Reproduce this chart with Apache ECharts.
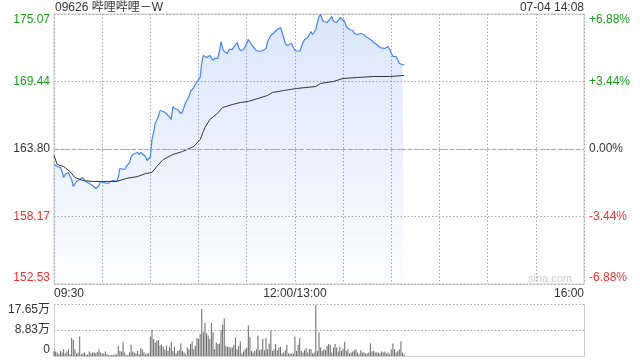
<!DOCTYPE html>
<html><head><meta charset="utf-8">
<script src="https://cdn.jsdelivr.net/npm/echarts@6/dist/echarts.min.js"></script>
<style>html,body{margin:0;padding:0;background:#fff}#c{width:640px;height:360px}</style>
</head><body><div id="c"></div>
<script>
const title = '09626 哔哩哔哩－W';
const stamp = '07-04 14:08';
const watermark = 'sina.com';
const prevClose = 163.80;
const yTickLabels = ['152.53','158.17','163.80','169.44','175.07'];
const pctTickLabels = ['-6.88%','-3.44%','0.00%','+3.44%','+6.88%'];
const timeLabels = {0:'09:30',150:'12:00/13:00',330:'16:00'};
const volTickLabels = ['0','8.83万','17.65万'];

// minutes since 09:30 (lunch break removed)
const priceMin = [0,2,4,5,6,7,9,10,11,12,13,14,16,18,19,21,22,24,26,27,28,29,30,31,32,34,35,36,37,39,40,41,42,44,45,46,47,48,49,50,52,53,54,55,57,58,59,60,61,62,63,64,65,66,67,68,70,71,72,73,74,75,77,78,79,80,82,83,84,85,87,88,89,90,91,92,93,94,95,96,97,98,99,100,102,103,104,105,106,108,109,110,111,112,114,115,116,117,118,120,121,122,123,125,126,127,128,130,131,132,133,135,136,137,138,139,141,143,144,145,146,148,149,150,151,153,154,155,156,158,159,160,161,162,163,164,165,166,167,168,169,170,171,172,173,174,176,177,178,179,181,182,183,184,186,187,188,189,191,192,193,194,196,197,198,199,201,202,203,204,206,207,208,209,211,212,213,214,215,217,218];
const priceVal = [162.51,162.34,162.26,161.92,161.42,161.67,161.84,161.50,161.25,160.67,160.75,161.09,161.25,161.42,161.17,161.00,160.84,160.75,160.50,160.42,160.75,161.09,161.25,161.00,161.09,160.92,161.09,161.00,161.17,161.09,161.42,162.17,162.26,162.09,162.34,162.42,162.67,163.17,163.34,163.42,163.51,163.34,163.51,163.59,163.17,162.84,162.92,163.17,164.59,165.18,165.93,165.85,166.51,167.01,166.93,166.93,166.76,166.60,166.43,166.26,167.35,167.18,167.10,166.93,166.76,166.93,167.68,167.93,168.18,168.60,168.93,169.18,169.27,169.60,169.77,171.02,171.61,171.77,171.44,171.52,171.61,171.52,171.19,171.36,171.36,171.94,172.77,172.19,171.94,171.77,172.11,172.27,172.11,172.27,172.69,172.27,172.02,172.02,172.11,172.61,172.94,172.94,172.52,172.19,172.02,171.86,171.94,172.02,171.94,172.19,172.77,173.28,173.44,173.53,173.61,173.78,173.94,173.11,172.61,172.44,172.52,172.61,172.27,172.02,172.11,171.94,172.02,172.69,172.94,173.11,173.36,173.61,173.36,173.44,173.78,174.36,174.86,175.03,174.61,174.44,174.44,174.36,174.28,174.69,174.86,174.44,174.36,174.53,174.78,174.86,174.44,174.03,173.94,173.78,173.69,173.44,173.36,173.36,173.44,173.44,173.36,173.19,173.03,172.94,172.86,172.69,172.52,172.44,172.27,172.27,172.19,172.27,172.36,172.11,171.52,171.44,171.52,171.27,170.94,170.85,170.85];

const avgMin = [0,2,6,10,13,18,24,31,39,45,52,57,61,64,68,74,80,87,91,93,94,97,101,105,111,116,121,133,136,143,151,163,166,174,180,189,199,209,218];
const avgVal = [163.26,162.51,162.34,161.92,161.42,161.17,161.09,161.09,161.09,161.34,161.50,161.75,161.84,162.34,162.92,163.34,163.59,164.01,164.59,165.26,165.59,166.26,166.68,167.26,167.51,167.68,167.77,168.27,168.52,168.68,168.85,169.02,169.27,169.44,169.69,169.77,169.85,169.85,169.94];

// volume per minute, in 万 shares
const volWan = [1.73,1.50,1.15,0.58,1.73,1.15,2.31,0.81,1.50,2.31,
0.58,6.12,5.42,2.31,0.81,1.15,6.58,0.58,0.81,1.15,
0.35,0.58,1.50,0.81,1.15,1.15,0.92,1.38,2.31,1.15,
0.81,
0.81,1.50,0.58,0.35,0.35,0.35,0.35,0.58,0.58,3.46,
1.73,1.50,4.85,1.15,0.35,0.35,1.15,3.81,1.50,1.15,
0.81,1.73,0.58,2.65,2.31,1.15,0.58,0.81,1.04,6.58,
8.89,5.77,4.62,5.19,5.42,3.69,3.81,3.12,2.08,3.46,
1.73,3.12,4.85,1.73,3.12,0.81,1.73,1.96,4.27,1.73,
1.15,
0.58,2.89,2.31,4.04,4.96,2.31,3.46,6.12,5.77,7.50,
15.93,8.08,11.19,7.73,6.92,5.77,11.19,8.08,2.31,4.62,
4.04,4.27,8.89,10.73,12.69,3.46,3.12,3.12,2.89,2.89,
3.81,6.35,2.31,3.46,4.96,0.81,1.50,2.31,2.89,10.39,
6.35,1.73,1.15,1.73,2.31,6.92,1.96,2.31,5.77,1.96,
6.12,2.31,4.27,8.66,1.73,2.31,4.04,1.96,2.89,3.12,
0.81,1.15,1.96,3.81,0.81,0.81,0.81,0.81,6.58,1.73,
3.81,6.12,1.73,1.15,1.96,2.65,1.15,2.31,2.31,0.81,
1.15,17.31,1.73,7.96,2.89,1.73,2.31,1.96,3.46,4.04,
3.81,1.15,2.89,4.04,2.89,
1.50,
3.12,1.73,2.54,4.85,1.73,
2.31,0.81,1.15,1.50,1.96,2.31,1.15,0.58,1.96,1.15,
1.15,0.81,0.81,1.15,4.27,1.50,1.73,1.15,1.15,1.15,
0.81,
1.50,1.15,1.50,0.81,1.15,0.58,2.31,4.27,2.31,1.15,
1.73,2.31,4.96,1.15,0.58];

const FONT = "'Liberation Sans','Noto Sans CJK SC',sans-serif";
const GREEN = '#1a9f1a', RED = '#f23030', DARK = '#333';
const GRIDC = '#a8a8a8';
const DOT = [1.5,2];
const span = 11.27, step = 5.635;
const idxOf = v => Math.round((parseFloat(v) + span) / step);
const colorOf = v => { v = parseFloat(v); return v > 0.001 ? GREEN : (v < -0.001 ? RED : DARK); };

const chart = echarts.init(document.getElementById('c'), null, {renderer:'canvas'});
chart.setOption({
  animation:false,
  textStyle:{fontFamily:FONT},
  grid:[
    {left:54, right:56, top:14, height:270, show:true, borderColor:'#ccc', borderWidth:1},
    {left:54, right:56, top:304, height:52, show:false}
  ],
  xAxis:[
    {gridIndex:0, type:'value', min:0, max:330, interval:30,
     axisLine:{show:false}, axisTick:{show:false},
     splitLine:{show:true, lineStyle:{color:GRIDC, width:1, type:DOT}},
     axisLabel:{show:true, margin:4, color:DARK, fontSize:12, fontFamily:FONT,
       formatter:v=>timeLabels[v]||'', alignMinLabel:'left', alignMaxLabel:'right',
       showMinLabel:true, showMaxLabel:true, hideOverlap:false}},
    {gridIndex:1, type:'value', min:0, max:330, interval:30,
     axisLine:{show:true, lineStyle:{color:'#ccc'}}, axisTick:{show:false},
     splitLine:{show:false}, axisLabel:{show:false}}
  ],
  yAxis:[
    {gridIndex:0, type:'value', min:-span, max:span, interval:step, position:'left',
     axisLine:{show:false}, axisTick:{show:false},
     splitLine:{show:true, lineStyle:{color:GRIDC, width:1, type:DOT}},
     axisLabel:{margin:4, fontSize:12, fontFamily:FONT, color:colorOf,
       formatter:v=>yTickLabels[idxOf(v)],
       verticalAlignMinLabel:'bottom', verticalAlignMaxLabel:'top'}},
    {gridIndex:0, type:'value', min:-span, max:span, interval:step, position:'right',
     axisLine:{show:false}, axisTick:{show:false}, splitLine:{show:false},
     axisLabel:{margin:5, fontSize:12, fontFamily:FONT, color:colorOf,
       formatter:v=>pctTickLabels[idxOf(v)],
       verticalAlignMinLabel:'bottom', verticalAlignMaxLabel:'top'}},
    {gridIndex:1, type:'value', min:0, max:17.65, interval:8.825, position:'left',
     axisLine:{show:true, lineStyle:{color:'#ccc'}}, axisTick:{show:false},
     splitLine:{show:true, lineStyle:{color:GRIDC, width:1, type:DOT}},
     axisLabel:{margin:4, fontSize:12, fontFamily:FONT, color:DARK,
       formatter:v=>volTickLabels[Math.round(v/8.825)],
       verticalAlignMinLabel:'bottom', verticalAlignMaxLabel:'top'}},
    {gridIndex:1, type:'value', min:0, max:17.65, interval:8.825, position:'right',
     axisLine:{show:true, lineStyle:{color:'#ccc'}}, axisTick:{show:false},
     splitLine:{show:false}, axisLabel:{show:false}}
  ],
  series:[
    {type:'line', xAxisIndex:0, yAxisIndex:0, showSymbol:false, silent:true,
     data:priceMin.map((m,i)=>[m, priceVal[i]-prevClose]),
     lineStyle:{color:'#4585f0', width:1.2},
     areaStyle:{origin:'start', color:new echarts.graphic.LinearGradient(0,0,0,1,[
       {offset:0, color:'rgba(70,130,240,0.28)'},{offset:1, color:'rgba(70,130,240,0.03)'}])},
     markLine:{silent:true, symbol:'none', label:{show:false},
       lineStyle:{color:'#aaa', type:[4,2], width:1}, data:[{yAxis:0}]},
     z:3},
    {type:'line', xAxisIndex:0, yAxisIndex:0, showSymbol:false, silent:true,
     data:avgMin.map((m,i)=>[m, avgVal[i]-prevClose]),
     lineStyle:{color:'#333', width:1}, z:4},
    {type:'bar', xAxisIndex:1, yAxisIndex:2, silent:true, barWidth:1,
     data:volWan.map((v,i)=>[i, v]), itemStyle:{color:'#666'}}
  ],
  graphic:[
    {type:'text', left:55, top:2, style:{text:title, fill:DARK, font:'12px '+FONT}},
    {type:'text', right:56, top:2, style:{text:stamp, fill:DARK, font:'12px '+FONT}},
    {type:'text', right:68, top:273, style:{text:watermark, fill:'#ccc', font:'11px '+FONT}}
  ]
});
</script>
</body></html>
